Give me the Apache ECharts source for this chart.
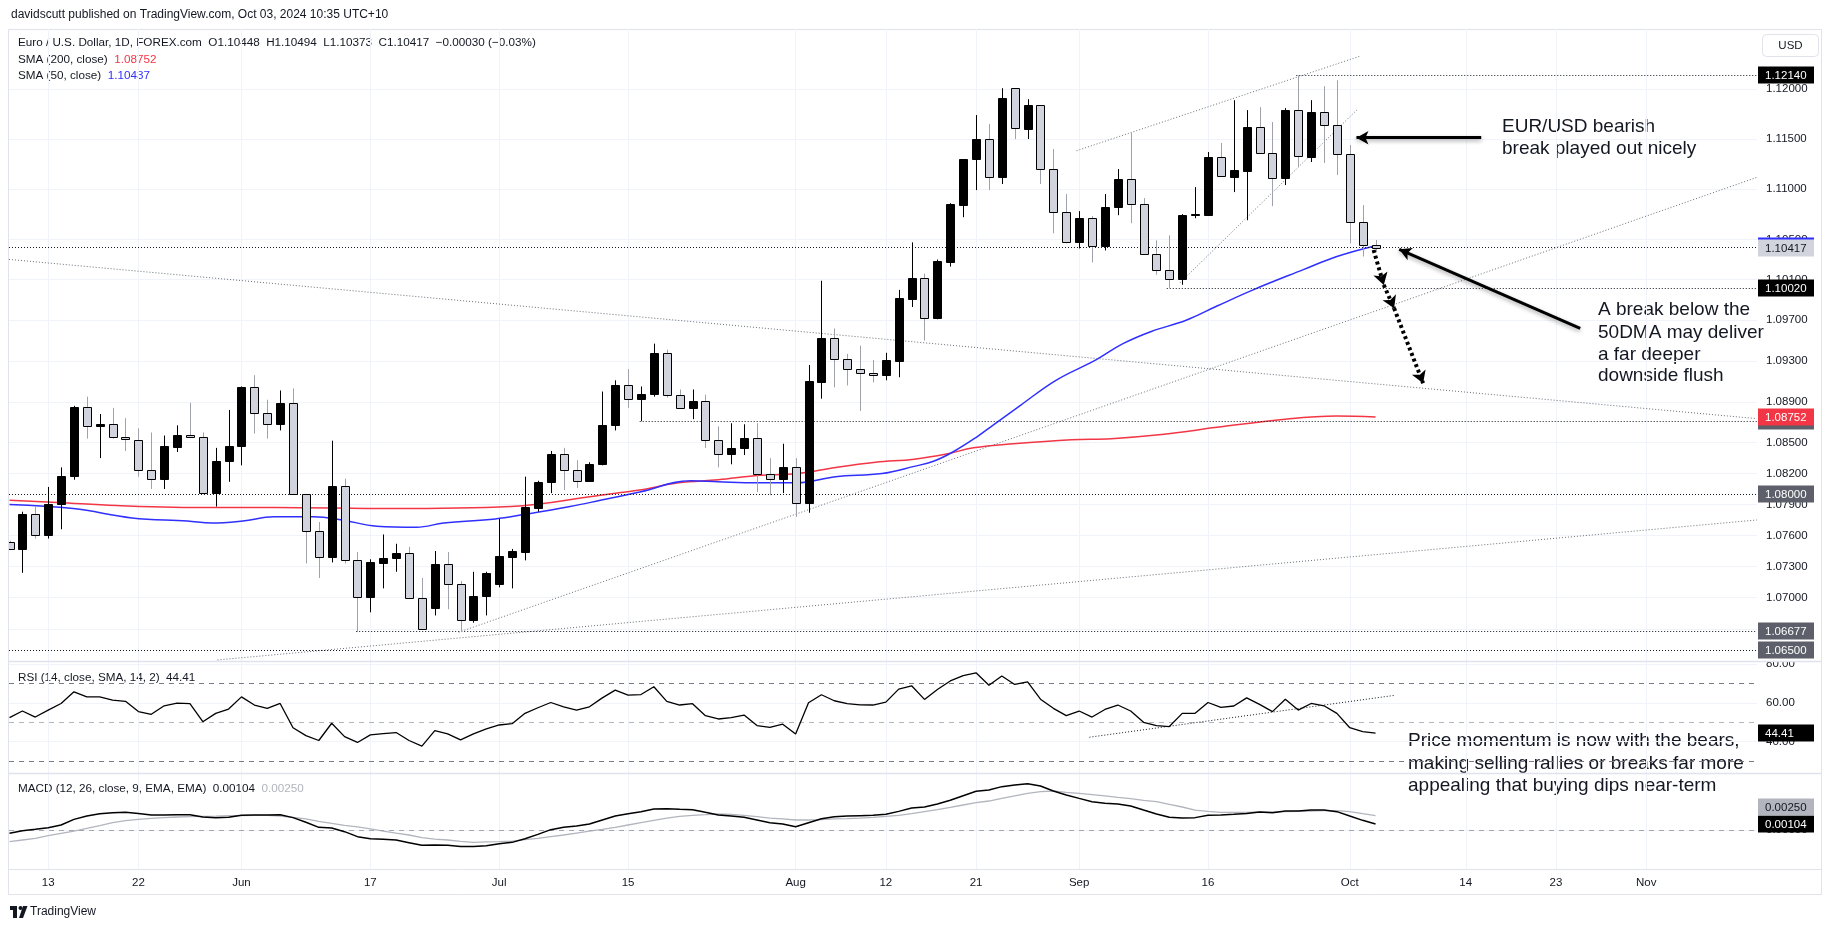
<!DOCTYPE html>
<html><head><meta charset="utf-8">
<script src="https://cdn.jsdelivr.net/npm/echarts@6/dist/echarts.min.js"></script>
<style>html,body{margin:0;padding:0;background:#fff}#c{width:1835px;height:931px}</style>
</head><body><div id="c"></div>
<script>
// ---------- data ----------
// bar index 0 = 8 May 2024 ... 106 = 3 Oct 2024 (weekdays)
const openP = [1.0754,1.0747,1.0781,1.0760,1.0790,1.0818,1.0885,1.0866,1.0868,1.0856,
1.0853,1.0823,1.0815,1.0846,1.0858,1.0856,1.0801,1.0832,1.0847,1.0904,
1.0879,1.0868,1.0889,1.0800,1.0764,1.0739,1.0808,1.0736,1.0701,1.0733,
1.0738,1.0743,1.0700,1.0690,1.0732,1.0713,1.0679,1.0702,1.0713,1.0739,
1.0744,1.0787,1.0812,1.0839,1.0823,1.0813,1.0829,1.0867,1.0906,1.0893,
1.0898,1.0938,1.0897,1.0884,1.0891,1.0853,1.0839,1.0845,1.0855,1.0820,
1.0815,1.0826,1.0791,1.0909,1.0953,1.0932,1.0922,1.0918,1.0916,1.0930,
1.0991,1.1012,1.0972,1.1028,1.1084,1.1130,1.1150,1.1112,1.1201,1.1160,
1.1184,1.1120,1.1077,1.1047,1.1071,1.1043,1.1082,1.1110,1.1085,1.1035,
1.1020,1.1011,1.1074,1.1074,1.1132,1.1112,1.1118,1.1162,1.1136,1.1111,
1.1179,1.1132,1.1177,1.1164,1.1135,1.1067,1.10448];
const highP = [1.0755,1.0783,1.0788,1.0807,1.0826,1.0886,1.0895,1.0878,1.0884,1.0874,
1.0864,1.0860,1.0857,1.0867,1.0889,1.0860,1.0845,1.0882,1.0905,1.0916,
1.0892,1.0901,1.0903,1.0800,1.0773,1.0852,1.0815,1.0744,1.0737,1.0761,
1.0752,1.0749,1.0719,1.0745,1.0744,1.0716,1.0725,1.0725,1.0776,1.0747,
1.0817,1.0813,1.0842,1.0845,1.0833,1.0831,1.0900,1.0911,1.0922,1.0905,
1.0947,1.0941,1.0902,1.0902,1.0897,1.0866,1.0869,1.0868,1.0869,1.0835,
1.0849,1.0835,1.0926,1.1009,1.0962,1.0937,1.0945,1.0931,1.0938,1.1000,
1.1047,1.1016,1.1030,1.1086,1.1130,1.1174,1.1165,1.1201,1.1201,1.1190,
1.1184,1.1140,1.1095,1.1078,1.1073,1.1095,1.1120,1.1156,1.1091,1.1049,
1.1054,1.1075,1.1102,1.1137,1.1146,1.1189,1.1179,1.1182,1.1167,1.1181,
1.1214,1.1189,1.1203,1.1209,1.1144,1.1084,1.10494];
const lowP = [1.0746,1.0724,1.0757,1.0757,1.0766,1.0814,1.0854,1.0835,1.0854,1.0842,
1.0817,1.0805,1.0805,1.0841,1.0855,1.0800,1.0788,1.0812,1.0828,1.0859,
1.0854,1.0862,1.0800,1.0733,1.0719,1.0734,1.0733,1.0667,1.0686,1.0709,
1.0725,1.0700,1.0670,1.0683,1.0689,1.0667,1.0676,1.0683,1.0710,1.0709,
1.0736,1.0783,1.0801,1.0804,1.0806,1.0812,1.0828,1.0862,1.0884,1.0871,
1.0895,1.0894,1.0884,1.0873,1.0845,1.0826,1.0829,1.0838,1.0802,1.0799,
1.0801,1.0778,1.0782,1.0893,1.0904,1.0906,1.0881,1.0909,1.0911,1.0914,
1.0983,1.0950,1.0971,1.1023,1.1072,1.1099,1.1099,1.1105,1.1150,1.1150,
1.1105,1.1056,1.1046,1.1041,1.1027,1.1039,1.1074,1.1066,1.1035,1.1015,
1.1002,1.1005,1.1071,1.1074,1.1112,1.1097,1.1069,1.1135,1.1083,1.1104,
1.1122,1.1127,1.1126,1.1114,1.1046,1.1033,1.10373];
const closeP = [1.0747,1.0781,1.0760,1.0790,1.0818,1.0885,1.0866,1.0868,1.0856,1.0854,
1.0823,1.0815,1.0847,1.0858,1.0856,1.0801,1.0832,1.0847,1.0904,1.0879,
1.0868,1.0889,1.0800,1.0764,1.0739,1.0808,1.0736,1.0701,1.0734,1.0738,
1.0743,1.0700,1.0670,1.0732,1.0713,1.0679,1.0702,1.0724,1.0740,1.0745,
1.0788,1.0812,1.0839,1.0823,1.0813,1.0829,1.0867,1.0906,1.0893,1.0898,
1.0938,1.0897,1.0884,1.0891,1.0853,1.0839,1.0845,1.0855,1.0820,1.0815,
1.0826,1.0791,1.0910,1.0953,1.0932,1.0922,1.0918,1.0916,1.0931,1.0992,
1.1012,1.0972,1.1029,1.1085,1.1130,1.1150,1.1112,1.1191,1.1161,1.1184,
1.1120,1.1077,1.1047,1.1071,1.1043,1.1082,1.1110,1.1085,1.1035,1.1020,
1.1011,1.1074,1.1075,1.1132,1.1113,1.1119,1.1162,1.1136,1.1111,1.1179,
1.1133,1.1177,1.1164,1.1135,1.1067,1.1044,1.10417];

const sma200X = [0,3.7,8.3,15.7,20.6,29.7,38.9,45.85,48.9,51.9,55,58,61.1,64.1,67.2,70.2,72.7,74.8,77.9,82.4,85.5,89.4,93.7,99,103,106];
const sma200Y = [1.0794,1.0792,1.0789,1.0787,1.0787,1.0786,1.0788,1.0799,1.0804,1.0811,1.0814,1.0818,1.0820,1.0826,1.0831,1.0834,1.0839,1.0845,1.0849,1.0853,1.0854,1.0858,1.0865,1.0873,1.0876,1.08752];
const sma50X = [0,4.95,9.5,13.8,15.7,18.1,20.5,23.6,25.8,28.5,31.6,33.7,37.7,39.8,43.5,45.85,48.9,52.9,55,58,61.1,64.1,67.7,70.2,71.7,73.2,75.1,76.3,78.5,81.2,84.3,86.4,88.6,91.3,93.7,96.5,100.4,103,106];
const sma50Y = [1.0790,1.0786,1.0777,1.0774,1.0772,1.0774,1.0778,1.0778,1.0775,1.0769,1.0768,1.0772,1.0776,1.0780,1.0788,1.0794,1.0802,1.0813,1.0812,1.0811,1.0811,1.0817,1.0820,1.0827,1.0832,1.0841,1.0856,1.0867,1.0887,1.0911,1.0931,1.0947,1.0959,1.0970,1.0984,1.1000,1.1020,1.1033,1.10437];

const rsiV = [52.4,55.8,52.7,56.3,59.7,65.7,63.1,63.1,61.4,60.8,
55.5,54.1,58.5,59.9,59.6,50.3,54.6,56.8,63.1,58.9,
57.2,59.7,47.2,43.1,40.6,49.5,42.6,39.6,43.5,44.2,
44.7,40.6,37.7,45.7,44.0,40.9,44.0,46.6,48.6,49.3,
54.6,57.5,60.2,58.0,56.3,58.0,62.6,66.6,64.0,64.3,
68.3,60.8,58.9,59.6,53.4,51.7,52.4,53.7,48.3,47.4,
49.0,44.0,60.1,64.2,61.1,59.6,59.0,58.9,60.4,67.1,
68.8,61.8,66.9,71.3,74.1,75.5,69.1,73.9,69.5,70.8,
61.9,57.2,53.4,55.8,52.7,56.6,58.9,55.8,50.0,48.3,
47.8,54.6,54.6,60.2,57.7,58.4,62.6,59.2,55.5,61.9,
56.3,59.7,58.5,54.6,47.2,45.2,44.41];
const macdV = [-0.00058,-0.00012,0.00012,0.00041,0.00087,0.00185,0.00243,0.00284,0.00301,0.00307,
0.00289,0.00261,0.00261,0.00266,0.00266,0.00226,0.00215,0.00220,0.00255,0.00261,
0.00261,0.00266,0.00215,0.00134,0.00046,0.00035,-0.00029,-0.00116,-0.00151,-0.00162,
-0.00174,-0.00220,-0.00266,-0.00261,-0.00266,-0.00289,-0.00289,-0.00273,-0.00238,-0.00215,
-0.00151,-0.00076,0.00006,0.00046,0.00069,0.00104,0.00174,0.00243,0.00284,0.00319,
0.00365,0.00371,0.00359,0.00354,0.00307,0.00261,0.00243,0.00220,0.00174,0.00127,
0.00104,0.00058,0.00127,0.00197,0.00232,0.00243,0.00249,0.00255,0.00273,0.00324,
0.00383,0.00400,0.00453,0.00516,0.00597,0.00673,0.00696,0.00754,0.00783,0.00806,
0.00765,0.00678,0.00608,0.00550,0.00493,0.00464,0.00453,0.00418,0.00347,0.00278,
0.00220,0.00208,0.00215,0.00255,0.00261,0.00273,0.00289,0.00313,0.00301,0.00330,
0.00330,0.00347,0.00347,0.00319,0.00243,0.00168,0.00104];
const signalV = [-0.00203,-0.00174,-0.00145,-0.00099,-0.00058,-0.00018,0.00029,0.00076,0.00127,0.00162,
0.00185,0.00203,0.00215,0.00226,0.00232,0.00238,0.00243,0.00249,0.00249,0.00255,
0.00255,0.00243,0.00220,0.00192,0.00151,0.00116,0.00081,0.00053,0.00018,-0.00018,
-0.00053,-0.00087,-0.00134,-0.00157,-0.00174,-0.00197,-0.00215,-0.00208,-0.00203,-0.00192,
-0.00168,-0.00145,-0.00116,-0.00087,-0.00053,-0.00018,0.00012,0.00046,0.00087,0.00127,
0.00168,0.00208,0.00238,0.00255,0.00266,0.00278,0.00273,0.00255,0.00232,0.00208,
0.00192,0.00174,0.00174,0.00180,0.00192,0.00197,0.00208,0.00220,0.00238,0.00255,
0.00284,0.00319,0.00354,0.00394,0.00435,0.00476,0.00504,0.00550,0.00592,0.00638,
0.00666,0.00678,0.00655,0.00638,0.00615,0.00592,0.00568,0.00545,0.00516,0.00493,
0.00446,0.00400,0.00347,0.00324,0.00307,0.00307,0.00307,0.00313,0.00313,0.00319,
0.00324,0.00330,0.00336,0.00336,0.00319,0.00284,0.00250];

const xTickIdx = [3,10,18,28,38,48,61,68,75,83,93,104,113,120,127];
const xTickText = ['13','22','Jun','17','Jul','15','Aug','12','21','Sep','16','Oct','14','23','Nov'];
const priceTicks = [1.12,1.115,1.11,1.105,1.101,1.097,1.093,1.089,1.085,1.082,1.079,1.076,1.073,1.07,1.067];
const rsiTicks = [40,60,80];
const macdTicks = [0,0.01];

// drawings (bar index, price)
const hLevels = [[99.85,1.1214],[-0.04,1.10417],[89.8,1.1002],[48.9,1.0871],[-0.04,1.08],[26.9,1.06677],[-0.04,1.065]];
const trendLines = [
  [-0.04,1.10301,135.59,1.08735],
  [34.86,1.06669,135.59,1.11117],
  [16.14,1.06404,135.59,1.07750],
  [82.8,1.11383,104.8,1.12333],
  [90.84,1.10071,104.6,1.11798]];
const priceBoxes = [ // value, text, bg, fg
  [1.1214,'1.12140','#000000','#ffffff'],
  [1.10437,'1.10437','#2f2fff','#ffffff'],
  [1.10417,'1.10417','#d1d4dc','#131722'],
  [1.1002,'1.10020','#000000','#ffffff'],
  [1.0871,'1.08710','#5d606b','#ffffff'],
  [1.08752,'1.08752','#f23645','#ffffff'],
  [1.08,'1.08000','#5d606b','#ffffff'],
  [1.06677,'1.06677','#5d606b','#ffffff'],
  [1.065,'1.06500','#5d606b','#ffffff']];
const rsiBoxes = [[44.41,'44.41','#000000','#ffffff']];
const macdBoxes = [[0.00104,'0.00104','#000000','#ffffff'],[0.0025,'0.00250','#b2b5be','#131722']];
const arrowSolid = [[114.2,1.11513,104.52,1.11513],[121.88,1.09621,107.84,1.10401]];
const arrowDotted = [[105.85,1.10394,106.64,1.10048],[106.64,1.10048,107.44,1.09818],[107.44,1.09818,109.69,1.09081]];
const rsiTrend = [83.8,42.3,107.5,63.9];

// ---------- chart ----------
const FONT = "'Liberation Sans', Arial, sans-serif";
const TXT = '#131722';
const LN = Math.log;
const X_MIN = -0.04, X_MAX = 135.6;
const Y_MIN = 0.061978, Y_MAX = 0.118736;

const candleData = openP.map((o, i) => [i, LN(o), LN(closeP[i]), LN(lowP[i]), LN(highP[i])]);

function renderCandle(params, api) {
  const i = api.value(0), o = api.value(1), c = api.value(2), l = api.value(3), h = api.value(4);
  const pO = api.coord([i, o]), pC = api.coord([i, c]), pL = api.coord([i, l]), pH = api.coord([i, h]);
  const up = c >= o;
  const xc = Math.round(pO[0]) + 0.5;
  const w = 8;
  const top = Math.round(Math.min(pO[1], pC[1])) + 0.5;
  let bot = Math.round(Math.max(pO[1], pC[1])) + 0.5;
  if (bot - top < 1) bot = top + 1;
  return {type: 'group', children: [
    {type: 'line', shape: {x1: xc, y1: pH[1], x2: xc, y2: pL[1]}, style: {stroke: up ? '#000000' : '#9fa2ab', lineWidth: 1}},
    {type: 'rect', shape: {x: xc - w / 2, y: top, width: w, height: bot - top}, style: {fill: up ? '#000000' : '#d1d4dc', stroke: '#000000', lineWidth: 1}}
  ]};
}
// price-scale label boxes; later boxes are pushed up if they collide with the previous one (push = true)
function boxRenderer(defs, push) {
  return function (params, api) {
    const k = api.value(2);
    const pt = api.coord([api.value(0), api.value(1)]);
    let yc = Math.round(pt[1]);
    if (push && k > 0) {
      const prev = Math.round(api.coord([api.value(0), defs[k - 1][0]])[1]);
      if (prev - yc < 17) yc = prev - 17;
    }
    const d = defs[k];
    return {type: 'group', children: [
      {type: 'rect', shape: {x: pt[0] + 1, y: yc - 8.5, width: 56, height: 17}, style: {fill: d[2]}},
      {type: 'text', x: pt[0] + 8, y: yc + 0.5, style: {text: d[1], fill: d[3], font: '11.5px ' + FONT, textVerticalAlign: 'middle', verticalAlign: 'middle'}}
    ]};
  };
}

function xAxisFor(g, show) {
  return {type: 'value', gridIndex: g, min: X_MIN, max: X_MAX,
    axisLine: {show: false}, axisTick: {show: false, customValues: xTickIdx},
    splitLine: {show: true, lineStyle: {color: '#f0f3fa', width: 1}},
    axisLabel: {show: show, customValues: xTickIdx, margin: 8, color: TXT, fontSize: 11.5, fontFamily: FONT,
      formatter: v => { const k = xTickIdx.indexOf(Math.round(v)); return k >= 0 ? xTickText[k] : ''; }}};
}
function yAxisFor(g, min, max, ticks, fmt) {
  return {type: 'value', gridIndex: g, position: 'right', min: min, max: max, scale: true,
    axisLine: {show: false}, axisTick: {show: false, customValues: ticks},
    splitLine: {show: true, lineStyle: {color: '#f0f3fa', width: 1}},
    axisLabel: {customValues: ticks, margin: 9, color: TXT, fontSize: 11.5, fontFamily: FONT, formatter: fmt}};
}
const dotted = [1, 2];

const mainLines = hLevels.map(h => [{coord: [h[0], LN(h[1])]}, {coord: [135.59, LN(h[1])]}]);
const mainDiag = trendLines.map(t => [{coord: [t[0], LN(t[1])], lineStyle: {color: '#6a6d78', width: 1, type: dotted}}, {coord: [t[2], LN(t[3])]}]);
const arrowsA = arrowSolid.map(a => [{coord: [a[0], LN(a[1])], symbol: 'none',
  lineStyle: {color: '#000000', width: 3, type: 'solid', shadowBlur: 4, shadowColor: 'rgba(0,0,0,0.35)', shadowOffsetY: 2}},
  {coord: [a[2], LN(a[3])], symbol: 'arrow', symbolSize: [10, 12]}]);
const arrowsB = arrowDotted.map(a => [{coord: [a[0], LN(a[1])], symbol: 'none', lineStyle: {color: '#000000', width: 4, type: [3, 3]}},
  {coord: [a[2], LN(a[3])], symbol: 'arrow', symbolSize: [11, 12]}]);

const option = {
  animation: false,
  backgroundColor: '#ffffff',
  grid: [
    {left: 9, right: 78, top: 29, height: 632},
    {left: 9, right: 78, top: 662, height: 111},
    {left: 9, right: 78, top: 774, height: 95}
  ],
  xAxis: [xAxisFor(0, false), xAxisFor(1, false), xAxisFor(2, true)],
  yAxis: [
    yAxisFor(0, Y_MIN, Y_MAX, priceTicks.map(LN), v => Math.exp(v).toFixed(5)),
    yAxisFor(1, 23.85, 81.08, rsiTicks, v => v.toFixed(2)),
    yAxisFor(2, -0.006783, 0.009739, macdTicks, v => v.toFixed(5))
  ],
  series: [
    {type: 'line', name: 'lines', xAxisIndex: 0, yAxisIndex: 0, data: [], z: 3, silent: true,
      markLine: {silent: true, symbol: ['none', 'none'], label: {show: false}, animation: false,
        lineStyle: {color: '#131722', width: 1, type: dotted}, data: mainLines.concat(mainDiag)}},
    {type: 'custom', name: 'EURUSD', xAxisIndex: 0, yAxisIndex: 0, clip: true, z: 5,
      renderItem: renderCandle, encode: {x: 0, y: [1, 2, 3, 4]}, data: candleData},
    {type: 'line', name: 'SMA200', xAxisIndex: 0, yAxisIndex: 0, z: 4, smooth: 0.4, showSymbol: false, silent: true,
      lineStyle: {color: '#f23645', width: 1.5}, data: sma200X.map((x, k) => [x, LN(sma200Y[k])])},
    {type: 'line', name: 'SMA50', xAxisIndex: 0, yAxisIndex: 0, z: 4, smooth: 0.4, showSymbol: false, silent: true,
      lineStyle: {color: '#2f2fff', width: 1.5}, data: sma50X.map((x, k) => [x, LN(sma50Y[k])])},
    {type: 'line', name: 'arrows', xAxisIndex: 0, yAxisIndex: 0, data: [], z: 8, silent: true,
      markLine: {silent: true, symbol: ['none', 'arrow'], label: {show: false}, animation: false, data: arrowsA.concat(arrowsB)}},
    {type: 'custom', name: 'priceBoxes', xAxisIndex: 0, yAxisIndex: 0, clip: false, z: 10, silent: true,
      renderItem: boxRenderer(priceBoxes.map(b => [LN(b[0]), b[1], b[2], b[3]]), false), encode: {x: 0, y: 1},
      data: priceBoxes.map((b, k) => [X_MAX, LN(b[0]), k])},
    {type: 'line', name: 'RSI', xAxisIndex: 1, yAxisIndex: 1, z: 5, showSymbol: false, silent: true,
      lineStyle: {color: '#000000', width: 1.3}, data: rsiV.map((v, i) => [i, v]),
      markLine: {silent: true, symbol: ['none', 'none'], animation: false, label: {show: false},
        data: [
          {yAxis: 70, lineStyle: {color: '#787b86', width: 1, type: [5, 5]}},
          {yAxis: 50, lineStyle: {color: '#b2b5be', width: 1, type: [5, 5]}},
          {yAxis: 30, lineStyle: {color: '#787b86', width: 1, type: [5, 5]}},
          [{coord: [rsiTrend[0], rsiTrend[1]], lineStyle: {color: '#131722', width: 1, type: dotted}}, {coord: [rsiTrend[2], rsiTrend[3]]}]
        ]}},
    {type: 'custom', name: 'rsiBoxes', xAxisIndex: 1, yAxisIndex: 1, clip: false, z: 10, silent: true,
      renderItem: boxRenderer(rsiBoxes, false), encode: {x: 0, y: 1}, data: rsiBoxes.map((b, k) => [X_MAX, b[0], k])},
    {type: 'line', name: 'Signal', xAxisIndex: 2, yAxisIndex: 2, z: 4, showSymbol: false, silent: true,
      lineStyle: {color: '#b2b5be', width: 1.3}, data: signalV.map((v, i) => [i, v])},
    {type: 'line', name: 'MACD', xAxisIndex: 2, yAxisIndex: 2, z: 5, showSymbol: false, silent: true,
      lineStyle: {color: '#000000', width: 1.5}, data: macdV.map((v, i) => [i, v]),
      markLine: {silent: true, symbol: ['none', 'none'], animation: false, label: {show: false},
        data: [{yAxis: 0, lineStyle: {color: '#a3a6af', width: 1, type: [5, 5]}}]}},
    {type: 'custom', name: 'macdBoxes', xAxisIndex: 2, yAxisIndex: 2, clip: false, z: 10, silent: true,
      renderItem: boxRenderer(macdBoxes, true), encode: {x: 0, y: 1}, data: macdBoxes.map((b, k) => [X_MAX, b[0], k])}
  ],
  graphic: [
    {type: 'rect', silent: true, z: -10, shape: {x: 8.5, y: 29.5, width: 1813, height: 865}, style: {fill: 'none', stroke: '#e0e3eb', lineWidth: 1}},
    {type: 'rect', silent: true, z: 1, shape: {x: 1758, y: 644, width: 63, height: 17.5}, style: {fill: '#ffffff'}},
    {type: 'rect', silent: true, z: 1, shape: {x: 1758, y: 758, width: 63, height: 15.5}, style: {fill: '#ffffff'}},
    {type: 'line', silent: true, z: 1, shape: {x1: 8, y1: 661.5, x2: 1822, y2: 661.5}, style: {stroke: '#e0e3eb', lineWidth: 1.5}},
    {type: 'line', silent: true, z: 1, shape: {x1: 8, y1: 773.5, x2: 1822, y2: 773.5}, style: {stroke: '#e0e3eb', lineWidth: 1.5}},
    {type: 'line', silent: true, z: 1, shape: {x1: 8, y1: 869.5, x2: 1822, y2: 869.5}, style: {stroke: '#e0e3eb', lineWidth: 1}},
    {type: 'text', x: 11, y: 15, style: {text: 'davidscutt published on TradingView.com, Oct 03, 2024 10:35 UTC+10', font: '12px ' + FONT, fill: TXT, textVerticalAlign: 'middle', verticalAlign: 'middle'}},
    {type: 'text', x: 18, y: 43, style: {text: 'Euro / U.S. Dollar, 1D, FOREX.com  O1.10448  H1.10494  L1.10373  C1.10417  \u22120.00030 (\u22120.03%)', font: '11.7px ' + FONT, fill: TXT, textVerticalAlign: 'middle', verticalAlign: 'middle'}},
    {type: 'text', x: 18, y: 59.5, style: {text: '{a|SMA (200, close)}  {r|1.08752}', font: '11.7px ' + FONT, fill: TXT, textVerticalAlign: 'middle', verticalAlign: 'middle',
      rich: {a: {fill: TXT, color: TXT, font: '11.7px ' + FONT}, r: {fill: '#f23645', color: '#f23645', font: '11.7px ' + FONT}}}},
    {type: 'text', x: 18, y: 75.5, style: {text: '{a|SMA (50, close)}  {b|1.10437}', font: '11.7px ' + FONT, fill: TXT, textVerticalAlign: 'middle', verticalAlign: 'middle',
      rich: {a: {fill: TXT, color: TXT, font: '11.7px ' + FONT}, b: {fill: '#2f2fff', color: '#2f2fff', font: '11.7px ' + FONT}}}},
    {type: 'text', x: 18, y: 677.5, style: {text: 'RSI (14, close, SMA, 14, 2)  44.41', font: '11.7px ' + FONT, fill: TXT, textVerticalAlign: 'middle', verticalAlign: 'middle'}},
    {type: 'text', x: 18, y: 789, style: {text: '{a|MACD (12, 26, close, 9, EMA, EMA)  0.00104}  {g|0.00250}', font: '11.7px ' + FONT, fill: TXT, textVerticalAlign: 'middle', verticalAlign: 'middle',
      rich: {a: {fill: TXT, color: TXT, font: '11.7px ' + FONT}, g: {fill: '#b2b5be', color: '#b2b5be', font: '11.7px ' + FONT}}}},
    {type: 'rect', silent: true, shape: {x: 1762.5, y: 34.5, width: 56, height: 22, r: 4}, style: {fill: '#ffffff', stroke: '#e0e3eb', lineWidth: 1}},
    {type: 'text', x: 1790.5, y: 45.5, style: {text: 'USD', font: '11.5px ' + FONT, fill: TXT, textAlign: 'center', align: 'center', textVerticalAlign: 'middle', verticalAlign: 'middle'}},
    {type: 'text', x: 1502, y: 126.5, style: {text: 'EUR/USD bearish', font: '19px ' + FONT, fill: TXT, textVerticalAlign: 'middle', verticalAlign: 'middle'}},
    {type: 'text', x: 1502, y: 149, style: {text: 'break played out nicely', font: '19px ' + FONT, fill: TXT, textVerticalAlign: 'middle', verticalAlign: 'middle'}},
    {type: 'text', x: 1598, y: 310, style: {text: 'A break below the', font: '19px ' + FONT, fill: TXT, textVerticalAlign: 'middle', verticalAlign: 'middle'}},
    {type: 'text', x: 1598, y: 332.3, style: {text: '50DMA may deliver', font: '19px ' + FONT, fill: TXT, textVerticalAlign: 'middle', verticalAlign: 'middle'}},
    {type: 'text', x: 1598, y: 354.6, style: {text: 'a far deeper', font: '19px ' + FONT, fill: TXT, textVerticalAlign: 'middle', verticalAlign: 'middle'}},
    {type: 'text', x: 1598, y: 376, style: {text: 'downside flush', font: '19px ' + FONT, fill: TXT, textVerticalAlign: 'middle', verticalAlign: 'middle'}},
    {type: 'text', x: 1408, y: 741, style: {text: 'Price momentum is now with the bears,', font: '19px ' + FONT, fill: TXT, textVerticalAlign: 'middle', verticalAlign: 'middle'}},
    {type: 'text', x: 1408, y: 763.3, style: {text: 'making selling rallies or breaks far more', font: '19px ' + FONT, fill: TXT, textVerticalAlign: 'middle', verticalAlign: 'middle'}},
    {type: 'text', x: 1408, y: 785.5, style: {text: 'appealing that buying dips near-term', font: '19px ' + FONT, fill: TXT, textVerticalAlign: 'middle', verticalAlign: 'middle'}},
    {type: 'rect', silent: true, shape: {x: 10, y: 906, width: 7, height: 4}, style: {fill: '#131722'}},
    {type: 'rect', silent: true, shape: {x: 13, y: 906, width: 4, height: 12}, style: {fill: '#131722'}},
    {type: 'circle', silent: true, shape: {cx: 20.5, cy: 908, r: 2}, style: {fill: '#131722'}},
    {type: 'polygon', silent: true, shape: {points: [[23, 906], [27.5, 906], [23, 918], [19, 918]]}, style: {fill: '#131722'}},
    {type: 'text', x: 30, y: 912, style: {text: 'TradingView', font: '12px ' + FONT, fill: TXT, textVerticalAlign: 'middle', verticalAlign: 'middle'}}
  ]
};
const chart = echarts.init(document.getElementById('c'));
chart.setOption(option);
</script></body></html>
